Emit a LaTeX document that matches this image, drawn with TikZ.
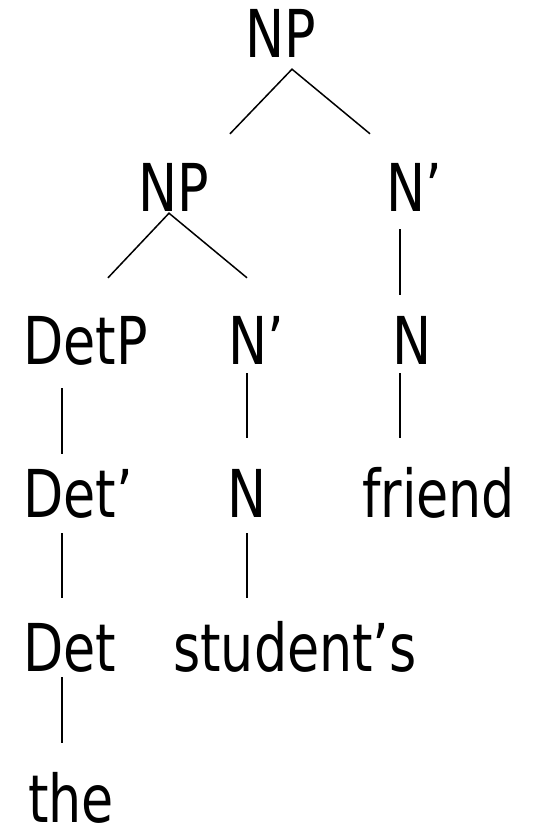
\documentclass[tikz,border=0pt]{standalone}
\usepackage{fontspec}
\usepackage{graphicx}
\setmainfont{DejaVu Sans Condensed}
\newcommand{\lbl}[1]{\scalebox{0.88}[1]{#1}}
\begin{document}
\begin{tikzpicture}[x=1pt,y=-1pt,
  lab/.style={anchor=base west,inner sep=0pt,text height=48pt,text depth=0pt,font=\fontsize{66}{70}\selectfont},
  edge/.style={line width=1.5pt,black}]
\useasboundingbox (0,0) rectangle (545,827);
\node[lab] (top) at (245,57) {\lbl{NP}};
\node[lab] (np2) at (138,211) {\lbl{NP}};
\node[lab] (n1) at (386,211) {\lbl{N’}};
\node[lab] (detp) at (23,364) {\lbl{DetP}};
\node[lab] (n2) at (228,364) {\lbl{N’}};
\node[lab] (nr) at (392,364) {\lbl{N}};
\node[lab] (detbar) at (23,517) {\lbl{Det’}};
\node[lab] (nm) at (227,517) {\lbl{N}};
\node[lab] (friend) at (362,517) {\lbl{friend}};
\node[lab] (det) at (23,671) {\lbl{Det}};
\node[lab] (student) at (173,671) {\lbl{student’s}};
\node[lab] (the) at (28,822) {\lbl{the}};
\draw[edge] ([shift={(92,-29)}]np2.north west) -- ([shift={(47,12)}]top.south west) -- ([shift={(-16,-29)}]n1.north west);
\draw[edge] ([shift={(85,-38)}]detp.north west) -- ([shift={(31,2)}]np2.south west) -- ([shift={(19,-38)}]n2.north west);
\draw[edge] ([shift={(14,18)}]n1.south west) -- ([shift={(8,-21)}]nr.north west);
\draw[edge] ([shift={(39,24)}]detp.south west) -- ([shift={(39,-15)}]detbar.north west);
\draw[edge] ([shift={(19,9)}]n2.south west) -- ([shift={(20,-31)}]nm.north west);
\draw[edge] ([shift={(8,9)}]nr.south west) -- ([shift={(38,-31)}]friend.north west);
\draw[edge] ([shift={(39,16)}]detbar.south west) -- ([shift={(39,-25)}]det.north west);
\draw[edge] ([shift={(20,16)}]nm.south west) -- ([shift={(74,-25)}]student.north west);
\draw[edge] ([shift={(39,6)}]det.south west) -- ([shift={(34,-31)}]the.north west);
\end{tikzpicture}
\end{document}
